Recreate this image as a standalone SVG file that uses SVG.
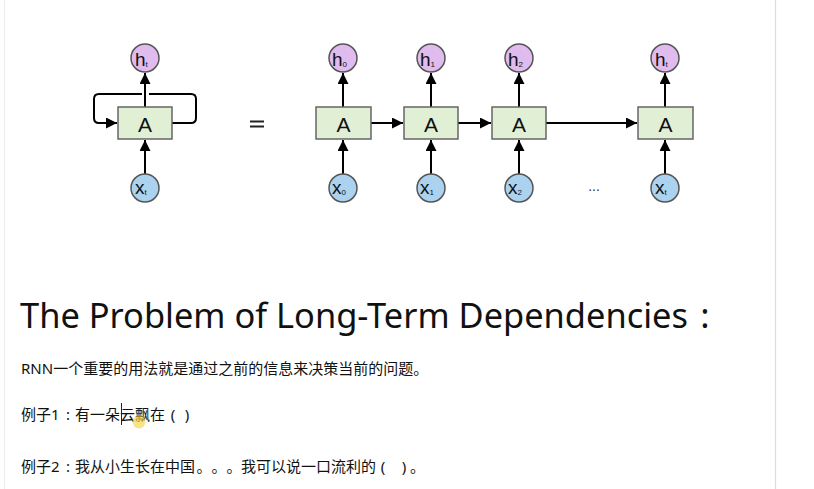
<svg xmlns="http://www.w3.org/2000/svg" width="814" height="489" viewBox="0 0 814 489">
<defs>
<marker id="ah" markerUnits="userSpaceOnUse" markerWidth="11" markerHeight="11" refX="10" refY="5" orient="auto" viewBox="0 0 10 10">
<path d="M0,0 L10,5 L0,10 z" fill="#000"/>
</marker>
</defs>
<style>
.box{fill:#e1f0d5;stroke:#666;stroke-width:1.5}
.h{fill:#e0bcee;stroke:#555;stroke-width:1.5}
.x{fill:#abd3f0;stroke:#555;stroke-width:1.5}
.lbl{font-family:"Liberation Sans","DejaVu Sans",sans-serif;fill:#111}
.big{font-size:19px}
.sub{font-size:8px}
.A{font-family:"Liberation Sans","DejaVu Sans",sans-serif;font-size:21px;fill:#111;text-anchor:middle}
.con{stroke:#000;stroke-width:2;fill:none}
.cn{font-family:"Noto Sans","Noto Sans CJK SC",sans-serif;fill:#111;font-size:15px}
.mid{text-anchor:middle}
</style>
<rect width="814" height="489" fill="#fff"/>
<line x1="4.5" y1="0" x2="4.5" y2="489" stroke="#ececec" stroke-width="1"/>
<line x1="775.5" y1="0" x2="775.5" y2="489" stroke="#dcdcdc" stroke-width="1.2"/>

<g id="connectors">
<line class="con" x1="145" y1="107" x2="145" y2="73" marker-end="url(#ah)"/>
<line class="con" x1="145" y1="174" x2="145" y2="140" marker-end="url(#ah)"/>
<path class="con" d="M172,123 H191 Q196,123 196,118 V99 Q196,94 191,94 H149 M142,94 H99 Q94,94 94,99 V118 Q94,123 99,123 H117" marker-end="url(#ah)"/>
<line class="con" x1="343" y1="107" x2="343" y2="73" marker-end="url(#ah)"/>
<line class="con" x1="343" y1="174" x2="343" y2="140" marker-end="url(#ah)"/>
<line class="con" x1="431" y1="107" x2="431" y2="73" marker-end="url(#ah)"/>
<line class="con" x1="431" y1="174" x2="431" y2="140" marker-end="url(#ah)"/>
<line class="con" x1="519" y1="107" x2="519" y2="73" marker-end="url(#ah)"/>
<line class="con" x1="519" y1="174" x2="519" y2="140" marker-end="url(#ah)"/>
<line class="con" x1="665" y1="107" x2="665" y2="73" marker-end="url(#ah)"/>
<line class="con" x1="665" y1="174" x2="665" y2="140" marker-end="url(#ah)"/>
<line class="con" x1="371" y1="123" x2="403" y2="123" marker-end="url(#ah)"/>
<line class="con" x1="458" y1="123" x2="491" y2="123" marker-end="url(#ah)"/>
<line class="con" x1="546" y1="123" x2="637" y2="123" marker-end="url(#ah)"/>
</g>

<g id="A-fold"><rect class="box" x="118" y="107" width="54" height="32"/><text class="A" x="145" y="132">A</text></g>
<g id="h-t-fold"><circle class="h" cx="145" cy="58" r="14"/><text class="lbl" x="135" y="65.5"><tspan class="big">h</tspan><tspan class="sub" dy="1">t</tspan></text></g>
<g id="x-t-fold"><circle class="x" cx="145" cy="188" r="14"/><text class="lbl" x="135" y="194"><tspan class="big">x</tspan><tspan class="sub" dy="1">t</tspan></text></g>

<g id="equals"><rect x="250" y="120.5" width="14" height="2" fill="#222"/><rect x="250" y="125.5" width="14" height="2" fill="#222"/></g>

<g id="A0"><rect class="box" x="316" y="107" width="55" height="32"/><text class="A" x="343.5" y="132">A</text></g>
<g id="A1"><rect class="box" x="404" y="107" width="54" height="32"/><text class="A" x="431" y="132">A</text></g>
<g id="A2"><rect class="box" x="492" y="107" width="54" height="32"/><text class="A" x="519" y="132">A</text></g>
<g id="At"><rect class="box" x="638" y="107" width="55" height="32"/><text class="A" x="665.5" y="132">A</text></g>

<g id="h0"><circle class="h" cx="343" cy="58" r="14"/><text class="lbl" x="332" y="65.5"><tspan class="big">h</tspan><tspan class="sub" dy="1">0</tspan></text></g>
<g id="h1"><circle class="h" cx="431" cy="58" r="14"/><text class="lbl" x="420" y="65.5"><tspan class="big">h</tspan><tspan class="sub" dy="1">1</tspan></text></g>
<g id="h2"><circle class="h" cx="519" cy="58" r="14"/><text class="lbl" x="508" y="65.5"><tspan class="big">h</tspan><tspan class="sub" dy="1">2</tspan></text></g>
<g id="ht"><circle class="h" cx="665" cy="58" r="14"/><text class="lbl" x="655" y="65.5"><tspan class="big">h</tspan><tspan class="sub" dy="1">t</tspan></text></g>

<g id="x0"><circle class="x" cx="343" cy="188" r="14"/><text class="lbl" x="332" y="194"><tspan class="big">x</tspan><tspan class="sub" dy="1">0</tspan></text></g>
<g id="x1"><circle class="x" cx="431" cy="188" r="14"/><text class="lbl" x="420" y="194"><tspan class="big">x</tspan><tspan class="sub" dy="1">1</tspan></text></g>
<g id="x2"><circle class="x" cx="519" cy="188" r="14"/><text class="lbl" x="508" y="194"><tspan class="big">x</tspan><tspan class="sub" dy="1">2</tspan></text></g>
<g id="xt"><circle class="x" cx="665" cy="188" r="14"/><text class="lbl" x="655" y="194"><tspan class="big">x</tspan><tspan class="sub" dy="1">t</tspan></text></g>

<text x="594" y="191" font-family="Liberation Sans, sans-serif" font-size="14" fill="#333" text-anchor="middle">...</text>

<text font-family="Noto Sans, sans-serif" fill="#111" font-size="35" y="328"><tspan x="20" textLength="668" lengthAdjust="spacingAndGlyphs">The Problem of Long-Term Dependencies</tspan><tspan x="705" text-anchor="middle">:</tspan></text>

<text class="cn" x="21" y="374">RNN一个重要的用法就是通过之前的信息来决策当前的问题。</text>

<text class="cn" y="420"><tspan x="21">例子1</tspan><tspan x="68" class="mid">:</tspan><tspan x="75">有一朵云飘在</tspan><tspan x="173" class="mid">(</tspan><tspan x="187" class="mid">)</tspan></text>

<text class="cn" y="472"><tspan x="21">例子2</tspan><tspan x="68" class="mid">:</tspan><tspan x="75">我从小生长在中国</tspan><tspan x="196.5">。</tspan><tspan x="211.5">。</tspan><tspan x="226.5">。</tspan><tspan x="241">我可以说一口流利的</tspan><tspan x="383" class="mid">(</tspan><tspan x="404" class="mid">)</tspan><tspan x="410">。</tspan></text>

<line x1="121.5" y1="403" x2="121.5" y2="425" stroke="#222" stroke-width="1"/>
<circle cx="139" cy="422" r="6.5" fill="#f2d23a" opacity="0.6"/>
</svg>
